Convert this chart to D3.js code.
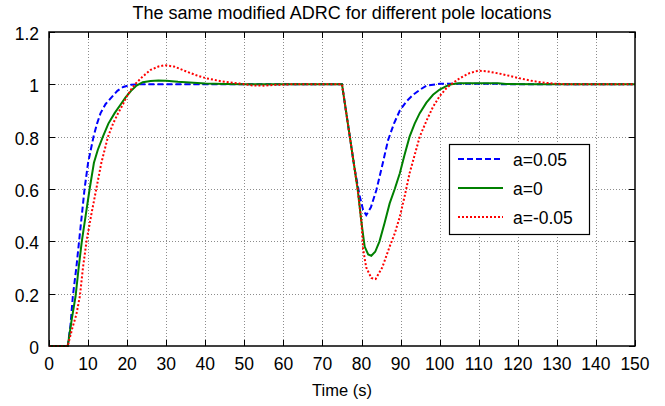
<!DOCTYPE html>
<html>
<head>
<meta charset="utf-8">
<script src="https://cdn.jsdelivr.net/npm/d3@7/dist/d3.min.js"></script>
<style>
  html, body { margin: 0; padding: 0; background: #fff; }
  svg { display: block; font-family: "Liberation Sans", Arial, Helvetica, sans-serif; }
</style>
</head>
<body>
<svg id="chart" width="665" height="406"></svg>
<script>
// Step responses of the modified ADRC for three pole locations
const title = "The same modified ADRC for different pole locations";
const xLabel = "Time (s)";
const xTicks = [0, 10, 20, 30, 40, 50, 60, 70, 80, 90, 100, 110, 120, 130, 140, 150];
const yTicks = [0, 0.2, 0.4, 0.6, 0.8, 1, 1.2];
const yTickLabels = ["0", "0.2", "0.4", "0.6", "0.8", "1", "1.2"];
const seriesNames = ["a=0.05", "a=0", "a=-0.05"];

// [time (s), output]
const blueA005 = [
  [0, 0], [4.8, 0], [5.5, 0.08], [6.1, 0.19], [7, 0.3], [7.7, 0.4], [8.4, 0.5], [9.1, 0.6],
  [10, 0.7], [11.4, 0.8], [12.3, 0.85], [13.2, 0.89], [14.5, 0.925], [16, 0.95], [17.5, 0.975],
  [19, 0.99], [21, 0.998], [23, 1.0], [75, 1.0], [76, 0.9], [77, 0.8], [78.2, 0.68],
  [79.5, 0.575], [80.4, 0.52], [81.2, 0.5], [82.4, 0.53], [83.8, 0.596], [85.3, 0.69],
  [86.8, 0.787], [88.3, 0.85], [89.8, 0.9], [91.5, 0.935], [93.2, 0.96], [95, 0.98],
  [96.6, 0.995], [99, 1.0], [100, 1.002], [115, 1.002], [116, 1.0], [150, 1.0]
];
const greenA0 = [
  [0, 0], [4.8, 0], [5.8, 0.1], [6.8, 0.19], [7.6, 0.3], [8.4, 0.4], [9.4, 0.5], [10.4, 0.6],
  [11.5, 0.7], [12.5, 0.75], [13.8, 0.8], [15.2, 0.85], [16.8, 0.89], [18.2, 0.92], [19.6, 0.95],
  [21, 0.975], [22.4, 0.995], [24, 1.008], [26, 1.013], [28, 1.015], [30, 1.014], [33, 1.01],
  [37, 1.006], [40, 1.003], [45, 1.001], [50, 1.0], [75, 1.0], [76, 0.9], [77, 0.8],
  [79, 0.6], [80, 0.47], [80.8, 0.38], [81.7, 0.35], [82.5, 0.345], [83.5, 0.36], [84.6, 0.4],
  [85.9, 0.47], [87.2, 0.545], [88.5, 0.6], [89.8, 0.66], [91, 0.73], [92.3, 0.8], [93.6, 0.85],
  [94.9, 0.89], [96.6, 0.93], [98.3, 0.96], [100, 0.98], [101.7, 0.993], [103, 1.0],
  [105, 1.004], [115, 1.004], [117, 1.001], [125, 1.0], [150, 1.0]
];
const redAm005 = [
  [0, 0], [4.8, 0], [6, 0.07], [7, 0.12], [7.9, 0.19], [8.7, 0.3], [9.6, 0.4], [10.8, 0.5],
  [12.1, 0.6], [13.4, 0.7], [15.1, 0.8], [16.4, 0.85], [17.7, 0.89], [18.8, 0.92], [19.8, 0.95],
  [21, 0.98], [22, 1.0], [24, 1.03], [26, 1.055], [28, 1.068], [29.6, 1.073], [32, 1.068],
  [35, 1.05], [38, 1.033], [40.3, 1.023], [44, 1.012], [48.8, 1.003], [52, 0.996], [55, 0.995],
  [58, 0.998], [62, 1.0], [75, 1.0], [76, 0.9], [77, 0.8], [79, 0.6], [80, 0.47], [80.4, 0.37],
  [81.2, 0.3], [82.5, 0.26], [83.6, 0.256], [85.3, 0.3], [87.2, 0.38], [88.5, 0.43],
  [89.8, 0.494], [91, 0.57], [92.3, 0.66], [93.6, 0.73], [94.9, 0.8], [96.6, 0.86],
  [98.3, 0.914], [100, 0.955], [101.7, 0.985], [103.4, 1.005], [105.1, 1.023], [107.5, 1.042],
  [109.8, 1.052], [112, 1.05], [115, 1.042], [118, 1.032], [120.5, 1.023], [124, 1.012],
  [127, 1.006], [129, 1.003], [133, 1.0], [150, 1.0]
];

const margin = { left: 49, right: 30, top: 32, bottom: 60 };
const W = 665, H = 406;
const svg = d3.select("#chart");

const x = d3.scaleLinear().domain([0, 150]).range([margin.left, W - margin.right]);
const y = d3.scaleLinear().domain([0, 1.2]).range([H - margin.bottom, margin.top]);

// dotted grid
const grid = svg.append("g").attr("stroke", "#8c8c8c").attr("stroke-width", 1)
  .attr("stroke-dasharray", "1,2");
grid.selectAll(".gx").data(xTicks.slice(1, -1)).join("line")
  .attr("x1", d => Math.round(x(d)) + 0.5).attr("x2", d => Math.round(x(d)) + 0.5)
  .attr("y1", y(0)).attr("y2", y(1.2));
grid.selectAll(".gy").data(yTicks.slice(1, -1)).join("line")
  .attr("y1", d => Math.round(y(d)) + 0.5).attr("y2", d => Math.round(y(d)) + 0.5)
  .attr("x1", x(0)).attr("x2", x(150));

// inward tick marks on all four sides
const tickLen = 6;
const ticks = svg.append("g").attr("stroke", "#000").attr("stroke-width", 1);
xTicks.forEach(t => {
  const px = Math.round(x(t)) + 0.5;
  ticks.append("line").attr("x1", px).attr("x2", px).attr("y1", y(0)).attr("y2", y(0) - tickLen);
  ticks.append("line").attr("x1", px).attr("x2", px).attr("y1", y(1.2)).attr("y2", y(1.2) + tickLen);
});
yTicks.forEach(v => {
  const py = Math.round(y(v)) + 0.5;
  ticks.append("line").attr("y1", py).attr("y2", py).attr("x1", x(0)).attr("x2", x(0) + tickLen);
  ticks.append("line").attr("y1", py).attr("y2", py).attr("x1", x(150)).attr("x2", x(150) - tickLen);
});

// response curves
const line = d3.line().x(d => x(d[0])).y(d => y(d[1]));
const styles = [
  { data: blueA005, color: "#0000ff", dash: "6,3" },
  { data: greenA0, color: "#008000", dash: null },
  { data: redAm005, color: "#ff0000", dash: "2,2" }
];
const curves = svg.append("g");
curves.selectAll("path").data(styles).join("path")
  .attr("d", s => line(s.data))
  .attr("fill", "none")
  .attr("stroke", s => s.color)
  .attr("stroke-width", 2)
  .attr("stroke-dasharray", s => s.dash);

// axes box
svg.append("rect")
  .attr("x", x(0)).attr("y", y(1.2))
  .attr("width", x(150) - x(0)).attr("height", y(0) - y(1.2))
  .attr("fill", "none").attr("stroke", "#000").attr("stroke-width", 1.5);

// tick labels
svg.append("g").selectAll("text").data(xTicks).join("text")
  .attr("x", d => x(d)).attr("y", y(0) + 24)
  .attr("text-anchor", "middle").attr("font-size", "17.5px")
  .text(d => d);
svg.append("g").selectAll("text").data(yTicks).join("text")
  .attr("x", x(0) - 10).attr("y", d => y(d) + 8)
  .attr("text-anchor", "end").attr("font-size", "17.5px")
  .text((d, i) => yTickLabels[i]);

// title and x-axis label
svg.append("text").attr("x", (x(0) + x(150)) / 2).attr("y", 19)
  .attr("text-anchor", "middle").attr("font-size", "18px").text(title);
svg.append("text").attr("x", (x(0) + x(150)) / 2).attr("y", 396)
  .attr("text-anchor", "middle").attr("font-size", "16.5px").text(xLabel);

// legend
const lg = svg.append("g");
lg.append("rect").attr("x", 449.5).attr("y", 144.5).attr("width", 140).attr("height", 90)
  .attr("fill", "#fff").attr("stroke", "#000").attr("stroke-width", 1.2);
const rowY = [159, 188, 217];
styles.forEach((s, i) => {
  lg.append("line").attr("x1", 458).attr("x2", 503).attr("y1", rowY[i]).attr("y2", rowY[i])
    .attr("stroke", s.color).attr("stroke-width", 2).attr("stroke-dasharray", s.dash);
  lg.append("text").attr("x", 513).attr("y", rowY[i] + 6.5).attr("font-size", "17.5px")
    .text(seriesNames[i]);
});
</script>
</body>
</html>
